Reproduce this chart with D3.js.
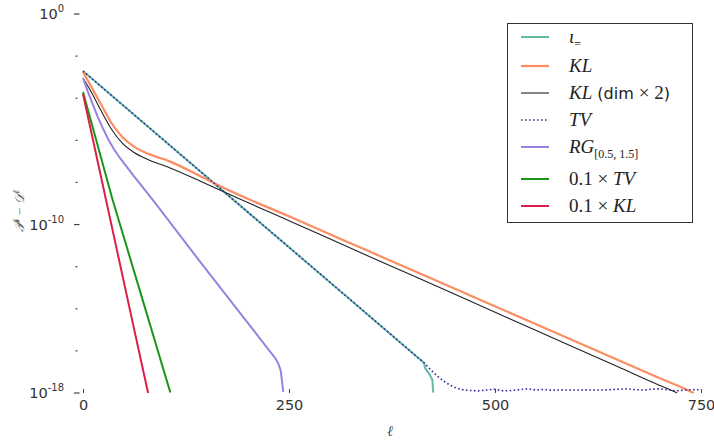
<!DOCTYPE html>
<head>
<meta charset="utf-8">
<title>Convergence of P - D</title>
<script type="text/javascript" src="https://cdn.jsdelivr.net/npm/d3@7/dist/d3.min.js"></script>
<style>
body { margin: 0; background: #fff; }
.tick text { font: 14.5px "DejaVu Sans", sans-serif; fill: #333; }
</style>
</head>
<body>
<script>
// values, y given as log10 of P - D
var iotaX = [0, 100, 200, 300, 414, 415, 421, 424, 425];
var iotaLog = [-2.71, -6.06, -9.41, -12.75, -16.57, -16.81, -17.14, -17.38, -17.98];

var klX = [0, 10, 22, 35, 48, 62, 80, 105, 142, 166, 250, 350, 450, 550, 650, 700, 730, 741];
var klLog = [-2.75, -3.45, -4.3, -5.2, -5.85, -6.3, -6.65, -7.0, -7.69, -8.17, -9.61, -11.32, -13.03, -14.74, -16.45, -17.30, -17.8, -18.0];

var kl2X = [0, 10, 22, 35, 48, 62, 80, 105, 142, 166, 250, 350, 450, 550, 650, 700, 710, 721];
var kl2Log = [-3.04, -3.7, -4.6, -5.5, -6.15, -6.58, -6.93, -7.3, -7.93, -8.36, -9.82, -11.56, -13.29, -15.03, -16.77, -17.64, -17.8, -18.0];

var tvX = [0, 100, 200, 300, 414, 422, 430, 440, 450, 460,
  470, 480, 490, 500, 510, 520, 530, 540, 550, 560, 570, 580, 590, 600,
  610, 620, 630, 640, 650, 660, 670, 680, 690, 700, 710, 720, 730, 740, 750];
var tvLog = [-2.71, -6.06, -9.41, -12.75, -16.57, -16.9, -17.2, -17.5, -17.72, -17.84,
  -17.88, -17.9, -17.86, -17.82, -17.9, -17.88, -17.84, -17.8, -17.86, -17.83, -17.87, -17.85, -17.86, -17.86,
  -17.85, -17.86, -17.86, -17.84, -17.82, -17.8, -17.84, -17.86, -17.82, -17.8, -17.85, -17.9, -17.86, -17.84, -17.85];

var rgX = [0, 6, 12, 18, 25, 31, 38, 45, 52, 61, 70, 82, 94, 142, 190, 233, 237, 240, 243];
var rgLog = [-3.04, -3.7, -4.3, -4.9, -5.5, -5.98, -6.45, -6.85, -7.2, -7.66, -8.1, -8.7, -9.3, -11.76, -14.17, -16.33, -16.6, -16.95, -17.95];

var tv01X = [0, 10, 20, 36, 70, 106];
var tv01Log = [-3.70, -5.13, -6.55, -8.83, -13.27, -17.98];

var kl01X = [0, 20, 40, 60, 79];
var kl01Log = [-3.80, -7.40, -11.0, -14.6, -18.0];

var xTicks = [0, 250, 500, 750];
var yTicks = [1e0, 1e-2, 1e-4, 1e-6, 1e-8, 1e-10, 1e-12, 1e-14, 1e-16, 1e-18];
var yLabelExp = [0, -10, -18];

var series = [
  {x: iotaX, y: iotaLog, color: "#66b8a4", width: 2, dash: null, smooth: false,
   label: [{t: "\u03b9", it: true}, {t: "=", sub: true}]},
  {x: klX, y: klLog, color: "#fc8d62", width: 2.2, dash: null, smooth: true,
   label: [{t: "KL", it: true}]},
  {x: kl2X, y: kl2Log, color: "#222", width: 1.1, dash: null, smooth: true,
   label: [{t: "KL", it: true}, {t: " (dim ", sans: true}, {t: "\u00d7 2"}, {t: ")", sans: true}]},
  {x: tvX, y: tvLog, color: "#2e2e9e", width: 1.6, dash: "1.6,2.4", smooth: false,
   label: [{t: "TV", it: true}]},
  {x: rgX, y: rgLog, color: "#9b80e3", width: 2, dash: null, smooth: false,
   label: [{t: "RG", it: true}, {t: "[0.5, 1.5]", sub: true}]},
  {x: tv01X, y: tv01Log, color: "#199619", width: 2, dash: null, smooth: false,
   label: [{t: "0.1 \u00d7 "}, {t: "TV", it: true}]},
  {x: kl01X, y: kl01Log, color: "#dc1e48", width: 2, dash: null, smooth: false,
   label: [{t: "0.1 \u00d7 "}, {t: "KL", it: true}]}
];

var width = 714, height = 440;
var svg = d3.select("body").append("svg")
  .attr("width", width)
  .attr("height", height);

var x = d3.scaleLinear().domain([0, 750]).range([83, 701]);
var y = d3.scaleLog().domain([1e-18, 1]).range([393, 14]);

svg.append("clipPath").attr("id", "plotclip")
  .append("rect").attr("x", 60).attr("y", y(1)).attr("width", 660).attr("height", y(1e-18) - y(1) + 1);

// x axis: ticks and labels only, no spine
var xAxis = svg.append("g")
  .attr("transform", "translate(0,389)")
  .call(d3.axisBottom(x).tickValues(xTicks).tickSize(4).tickPadding(7).tickFormat(d3.format("d")));
xAxis.select(".domain").remove();
xAxis.selectAll(".tick line").attr("stroke", "#444");

// y axis
var yg = svg.append("g");
yg.selectAll("line").data(yTicks).enter().append("line")
  .attr("x1", function(d) { return yLabelExp.indexOf(Math.round(Math.log10(d))) >= 0 ? 74 : 75.5; })
  .attr("x2", function(d) { return yLabelExp.indexOf(Math.round(Math.log10(d))) >= 0 ? 79.5 : 77.5; })
  .attr("y1", function(d) { return y(d); })
  .attr("y2", function(d) { return y(d); })
  .attr("stroke", "#444")
  .attr("stroke-width", 1.2);

var yl = yg.selectAll("text").data(yLabelExp).enter().append("text")
  .attr("x", 64)
  .attr("y", function(d) { return y(Math.pow(10, d)) + 5; })
  .attr("text-anchor", "end")
  .style("font", "14.5px 'DejaVu Sans', sans-serif")
  .style("fill", "#333");
yl.append("tspan").text("10");
yl.append("tspan").attr("dy", -7).style("font-size", "10px").text(function(d) { return d; });

// lines
var line = d3.line()
  .x(function(d) { return x(d[0]); })
  .y(function(d) { return y(Math.pow(10, d[1])); });

var plot = svg.append("g").attr("clip-path", "url(#plotclip)");
series.forEach(function(s) {
  var pts = s.x.map(function(v, i) { return [v, s.y[i]]; });
  line.curve(s.smooth ? d3.curveMonotoneX : d3.curveLinear);
  plot.append("path")
    .datum(pts)
    .attr("d", line)
    .attr("fill", "none")
    .attr("stroke", s.color)
    .attr("stroke-width", s.width)
    .attr("stroke-dasharray", s.dash)
    .attr("stroke-linejoin", "round");
});

// axis titles
svg.append("text")
  .attr("x", x(375) - 2).attr("y", 436)
  .attr("text-anchor", "middle")
  .style("font", "italic 15px 'Liberation Serif', serif")
  .style("fill", "#555")
  .text("\u2113");

var ytitle = svg.append("text")
  .attr("transform", "translate(24,211) rotate(-90)")
  .attr("text-anchor", "middle")
  .style("font", "italic 13px 'Liberation Serif', serif")
  .style("fill", "#555");
ytitle.append("tspan").text("\ud835\udcab");
ytitle.append("tspan").attr("dy", -5).style("font-size", "9px").text("\u2113");
ytitle.append("tspan").attr("dy", 5).text(" \u2212 ");
ytitle.append("tspan").text("\ud835\udc9f");
ytitle.append("tspan").attr("dy", -5).style("font-size", "9px").text("\u2113");

// legend
var leg = svg.append("g");
leg.append("rect")
  .attr("x", 507.5).attr("y", 23.5).attr("width", 185).attr("height", 199)
  .attr("fill", "#fff").attr("stroke", "#333").attr("stroke-width", 1);

var rowY = [37, 66, 93, 120, 147, 179, 206];
series.forEach(function(s, i) {
  var ry = rowY[i];
  leg.append("line")
    .attr("x1", 521).attr("x2", 549).attr("y1", ry).attr("y2", ry)
    .attr("stroke", s.color)
    .attr("stroke-width", s.width)
    .attr("stroke-dasharray", s.dash);
  var t = leg.append("text")
    .attr("x", 569).attr("y", ry + 6)
    .style("font", "19px 'Liberation Serif', serif")
    .style("fill", "#222");
  s.label.forEach(function(p) {
    var sp = t.append("tspan").text(p.t);
    if (p.it) sp.style("font-style", "italic");
    if (p.sans) sp.style("font-family", "'DejaVu Sans', sans-serif").style("font-size", "16px");
    if (p.sub) sp.attr("dy", 5).style("font-size", "12px");
  });
});
</script>
</body>
